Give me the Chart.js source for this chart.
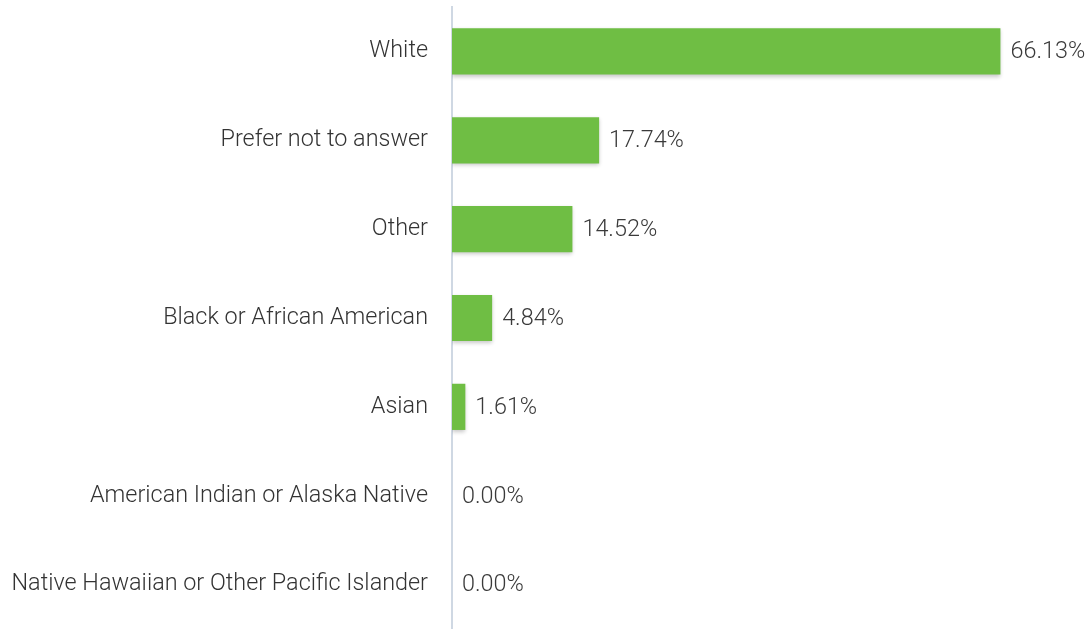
<!DOCTYPE html>
<html lang="en">
<head>
    <meta charset="UTF-8">
    <title>race chart</title>
    <style>
        html, body {
            margin: 0;
            padding: 0;
            background: #fff;
        }
        #box {
            width: 1092px;
            height: 629px;
        }
    </style>
</head>
<body>
    <div id="box">
        <canvas id="myChart"></canvas>
    </div>

    <script src="https://cdn.jsdelivr.net/npm/chart.js"></script>
    <script>
        let labels = [
            'White',
            'Prefer not to answer',
            'Other',
            'Black or African American',
            'Asian',
            'American Indian or Alaska Native',
            'Native Hawaiian or Other Pacific Islander'
        ];
        let percents = [66.13, 17.74, 14.52, 4.84, 1.61, 0.00, 0.00];

        // soft shadow under the bars
        let barShadow = {
            id: 'barShadow',
            beforeDatasetsDraw(chart) {
                let ctx = chart.ctx;
                ctx.save();
                ctx.shadowColor = 'rgba(0, 0, 0, 0.22)';
                ctx.shadowBlur = 4;
                ctx.shadowOffsetY = 2;
            },
            afterDatasetsDraw(chart) {
                chart.ctx.restore();
            }
        };

        // value text just past the end of each bar
        let valueText = {
            id: 'valueText',
            afterDatasetsDraw(chart) {
                let ctx = chart.ctx;
                let meta = chart.getDatasetMeta(0);
                ctx.save();
                ctx.font = '300 23.4px Roboto';
                ctx.fillStyle = '#3a3a3a';
                ctx.textAlign = 'left';
                ctx.textBaseline = 'middle';
                meta.data.forEach((bar, i) => {
                    ctx.fillText(percents[i].toFixed(2) + '%', bar.x + 10, bar.y + 1);
                });
                ctx.restore();
            }
        };

        let ctx = document.getElementById('myChart');
        let myChart = new Chart(ctx, {
            type: 'bar',
            data: {
                labels: labels,
                datasets: [{
                    data: percents,
                    backgroundColor: '#6fbe44',
                    borderWidth: 0,
                    categoryPercentage: 1,
                    barPercentage: 0.52
                }]
            },
            options: {
                indexAxis: 'y',
                responsive: true,
                maintainAspectRatio: false,
                animation: false,
                layout: {
                    padding: { top: 7, right: 18, bottom: 0, left: 0 }
                },
                plugins: {
                    legend: { display: false },
                    tooltip: { enabled: false }
                },
                scales: {
                    x: {
                        display: false,
                        min: 0,
                        max: 75
                    },
                    y: {
                        afterFit(scale) {
                            scale.width = 452;
                            scale.paddingTop = 0;
                            scale.paddingBottom = 0;
                        },
                        grid: {
                            display: false,
                            drawTicks: false
                        },
                        border: {
                            display: true,
                            color: '#cfd8e3',
                            width: 2
                        },
                        ticks: {
                            padding: 24,
                            color: '#333',
                            font: { family: 'Roboto', size: 23.4, weight: '300' }
                        }
                    }
                }
            },
            plugins: [barShadow, valueText]
        });
    </script>
</body>
</html>
